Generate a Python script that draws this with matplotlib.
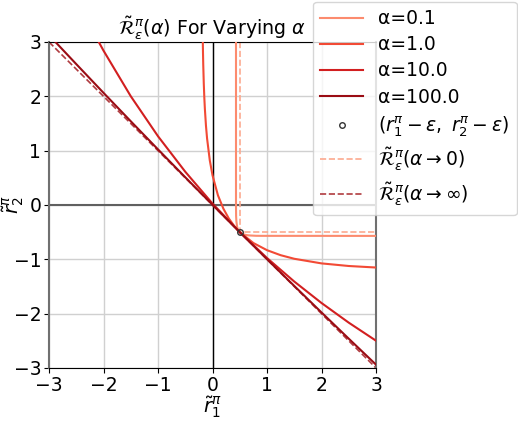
import numpy as np
import matplotlib
matplotlib.use('Agg')
import matplotlib.pyplot as plt

# curve points (x, y)
a01_x = [0.431, 0.431, 0.431, 0.433, 0.438, 0.451, 0.467, 0.480, 0.500, 0.525, 0.550, 0.600, 0.650, 0.700, 0.800, 0.900, 3.000]
a01_y = [3.000, 1.000, 0.000, -0.200, -0.300, -0.400, -0.450, -0.475, -0.500, -0.520, -0.533, -0.549, -0.558, -0.562, -0.567, -0.568, -0.569]

a1_x = [-0.178, -0.175, -0.170, -0.160, -0.150, -0.140, -0.120, -0.100, -0.050, 0.000, 0.100, 0.200, 0.300, 0.400, 0.500, 0.750, 1.000, 1.250, 1.500, 2.000, 2.500, 3.000]
a1_y = [3.003, 2.824, 2.583, 2.230, 1.971, 1.768, 1.458, 1.227, 0.822, 0.546, 0.177, -0.069, -0.250, -0.389, -0.500, -0.700, -0.832, -0.924, -0.990, -1.075, -1.123, -1.151]

a10_x = [-2.087, -2.000, -1.500, -1.000, -0.500, 0.000, 0.500, 1.000, 1.500, 2.000, 2.500, 3.000]
a10_y = [3.000, 2.841, 2.002, 1.265, 0.612, 0.026, -0.500, -0.976, -1.409, -1.804, -2.166, -2.498]

a100_x = [-2.882, -2.500, -2.000, -1.500, -1.000, -0.500, 0.000, 0.500, 1.000, 1.500, 2.000, 2.500, 3.000]
a100_y = [3.000, 2.593, 2.064, 1.541, 1.023, 0.510, 0.003, -0.500, -0.998, -1.490, -1.978, -2.461, -2.939]

# limits alpha -> 0 (corner) and alpha -> inf (straight line)
lim0_x = [0.5, 0.5, 3.0]
lim0_y = [3.0, -0.5, -0.5]
liminf_x = [-3.0, 3.0]
liminf_y = [3.0, -3.0]

pt = (0.5, -0.5)

alphas = ['0.1', '1.0', '10.0', '100.0']
colors = ['#fc8b6e', '#f24a35', '#d21f20', '#9a0c14']

fig = plt.figure(figsize=(5.18, 4.36), dpi=100)
ax = fig.add_axes([0.0946, 0.156, 0.6313, 0.7477])

ax.grid(True, color='#d0d0d0', linewidth=1.0, zorder=0)
ax.axhline(0, color='#606060', linewidth=1.5, zorder=2)
ax.axvline(0, color='k', linewidth=1.0, zorder=2)

curves = [(a01_x, a01_y), (a1_x, a1_y), (a10_x, a10_y), (a100_x, a100_y)]
for (xs, ys), a, c in zip(curves, alphas, colors):
    ax.plot(xs, ys, color=c, linewidth=1.5, label='α=' + a, zorder=3)

ax.plot(pt[0], pt[1], 'o', markersize=4, markerfacecolor='none', markeredgecolor='#333333',
        markeredgewidth=1.0, label=r'$(r_1^\pi-\epsilon,\ r_2^\pi-\epsilon)$', zorder=4)

ax.plot(lim0_x, lim0_y, '--', color='#fca98f', linewidth=1.2,
        label=r'$\tilde{\mathcal{R}}_\epsilon^\pi(\alpha\rightarrow 0)$', zorder=2.5)
ax.plot(liminf_x, liminf_y, '--', color='#a8262b', linewidth=1.2, alpha=0.9,
        label=r'$\tilde{\mathcal{R}}_\epsilon^\pi(\alpha\rightarrow \infty)$', zorder=2.5)

ax.set_xlim(-3, 3)
ax.set_ylim(-3, 3)
ax.set_xticks([-3, -2, -1, 0, 1, 2, 3])
ax.set_yticks([-3, -2, -1, 0, 1, 2, 3])
ax.tick_params(labelsize=13.5, pad=2)
for s in ['left', 'right']:
    ax.spines[s].set_color('#707070')
    ax.spines[s].set_linewidth(1.5)

ax.set_title(r'$\tilde{\mathcal{R}}_\epsilon^\pi(\alpha)$ For Varying $\alpha$', fontsize=13.7, pad=4)
ax.set_xlabel(r'$\tilde{r}_1^\pi$', fontsize=14, labelpad=0)
ax.set_ylabel(r'$\tilde{r}_2^\pi$', fontsize=14)
ax.yaxis.set_label_coords(-0.07, 0.5)

fig.legend(loc='upper left', bbox_to_anchor=(0.604, 0.996), fontsize=13.5,
           handlelength=2.3, labelspacing=0.38, framealpha=0.8, borderaxespad=0)

fig.savefig('out.png', dpi=100)
